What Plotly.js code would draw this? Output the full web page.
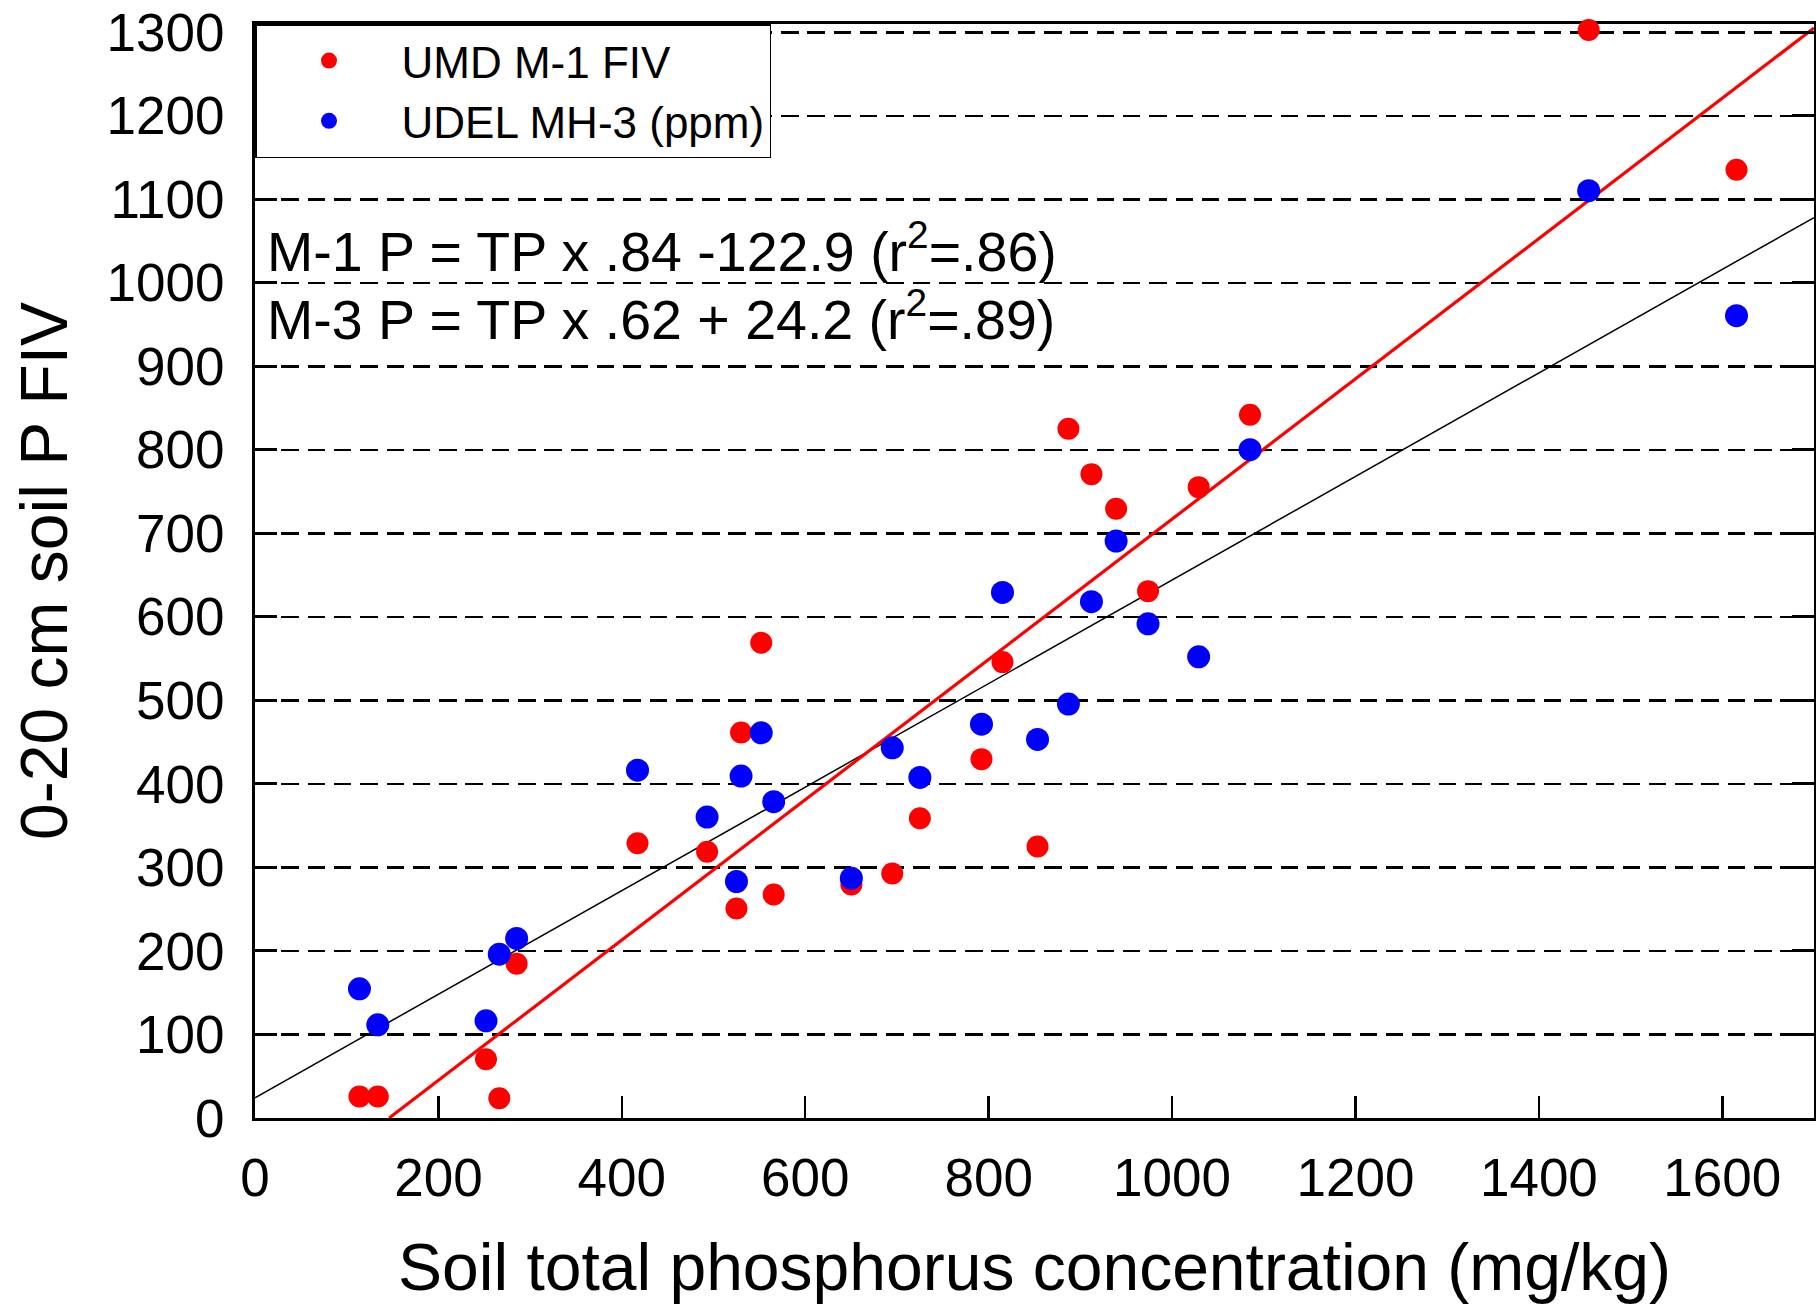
<!DOCTYPE html>
<html>
<head>
<meta charset="utf-8">
<script src="https://cdn.plot.ly/plotly-3.0.1.min.js"></script>
<style>
  html, body { margin: 0; padding: 0; background: #fff; }
  #chart { width: 1816px; height: 1304px; }
</style>
</head>
<body>
<div id="chart"></div>
<script>
// ---- Data ----
const soilTP = [113.9, 133.9, 251.9, 266.4, 285.3, 417.1, 493, 525, 530, 552, 565.6, 650.3, 694.9, 725, 792.2, 815.1, 853.3, 887, 912.1, 939, 973.8, 1029, 1085, 1454.3, 1615.5];
const umdM1 = [25.7, 25.7, 70.4, 23.7, 184.6, 329.1, 318.8, 250.9, 461.7, 569.1, 267.7, 279.6, 292.8, 359, 429.7, 545.9, 325.1, 825.4, 771, 729.6, 630.9, 755.4, 842.2, 1302.8, 1135.5];
const udelM3 = [154.7, 111.6, 116.4, 196.2, 215, 416.5, 360.3, 283.2, 409.4, 461.3, 378.7, 287.2, 443.3, 407.8, 471.6, 629.3, 453.3, 495.6, 618.2, 690.8, 591.8, 552.3, 800.2, 1110.4, 960.7];

const seriesNames = ["UMD M-1 FIV", "UDEL MH-3 (ppm)"];
// regression: [slope, intercept]
const fitM1 = [0.84, -122.9];
const fitM3 = [0.62, 24.2];
const equations = [
  "M-1 P = TP x .84 -122.9 (r<sup>2</sup>=.86)",
  "M-3 P = TP x .62 + 24.2 (r<sup>2</sup>=.89)"
];
const xTicks = [0, 200, 400, 600, 800, 1000, 1200, 1400, 1600];
const yTicks = [0, 100, 200, 300, 400, 500, 600, 700, 800, 900, 1000, 1100, 1200, 1300];
const xMax = 1700, yMax = 1310;

// fit line endpoints computed from the coefficients
function fitLine(c, x0, x1) {
  return { x: [x0, x1], y: [c[0] * x0 + c[1], c[0] * x1 + c[1]] };
}
const m1Start = Math.max(0, -fitM1[1] / fitM1[0]);
const l1 = fitLine(fitM1, m1Start, xMax);
const l3 = fitLine(fitM3, 0, xMax);

const FONT = "Liberation Sans, Arial, Helvetica, sans-serif";

const traces = [
  { x: l3.x, y: l3.y, mode: "lines", line: { color: "#000000", width: 1.5 }, showlegend: false, hoverinfo: "skip" },
  { x: l1.x, y: l1.y, mode: "lines", line: { color: "#ff0000", width: 3.2 }, showlegend: false, hoverinfo: "skip" },
  { x: soilTP, y: umdM1, name: seriesNames[0], mode: "markers", cliponaxis: false,
    marker: { color: "#ff0000", size: 22 } },
  { x: soilTP, y: udelM3, name: seriesNames[1], mode: "markers", cliponaxis: false,
    marker: { color: "#0000ff", size: 23 } }
];

const layout = {
  width: 1816, height: 1304,
  margin: { l: 255, r: 2, t: 24, b: 186, pad: 0 },
  paper_bgcolor: "#ffffff", plot_bgcolor: "#ffffff",
  font: { family: FONT, color: "#000000" },
  showlegend: true,
  legend: {
    x: 0, y: 1, xanchor: "left", yanchor: "top",
    bgcolor: "#ffffff", bordercolor: "#000000", borderwidth: 1.5,
    font: { size: 44, family: FONT, color: "#000000" },
    itemwidth: 135, tracegroupgap: 0
  },
  xaxis: {
    range: [0, xMax], tickvals: xTicks, ticktext: xTicks.map(String),
    ticks: "inside", ticklen: 22, tickwidth: 2.5, tickcolor: "#000000",
    showline: true, linewidth: 3, linecolor: "#000000", mirror: true,
    showgrid: false, zeroline: false, layer: "below traces",
    tickfont: { size: 53, family: FONT, color: "#000000" },
    ticklabelstandoff: 11,
    title: { text: "Soil total phosphorus concentration (mg/kg)", font: { size: 66, family: FONT, color: "#000000" }, standoff: 39 }
  },
  yaxis: {
    range: [0, yMax], tickvals: yTicks, ticktext: yTicks.map(String),
    ticks: "inside", ticklen: 22, tickwidth: 3, tickcolor: "#000000",
    showline: true, linewidth: 3, linecolor: "#000000", mirror: "ticks",
    showgrid: true, gridcolor: "#000000", gridwidth: 2.7, griddash: "17.5px,8.8px",
    zeroline: false,
    tickfont: { size: 53, family: FONT, color: "#000000" },
    ticklabelstandoff: 17,
    title: { text: "0-20 cm soil P FIV", font: { size: 66, family: FONT, color: "#000000" }, standoff: 18 }
  },
  annotations: [
    { text: equations[0], xref: "paper", yref: "paper", x: 0.0066, y: 0.7955, xanchor: "left", yanchor: "middle",
      showarrow: false, font: { size: 55.5, family: FONT, color: "#000000" } },
    { text: equations[1], xref: "paper", yref: "paper", x: 0.0066, y: 0.7333, xanchor: "left", yanchor: "middle",
      showarrow: false, font: { size: 55.5, family: FONT, color: "#000000" } }
  ]
};

Plotly.newPlot("chart", traces, layout, { displayModeBar: false, staticPlot: true });
</script>
</body>
</html>
